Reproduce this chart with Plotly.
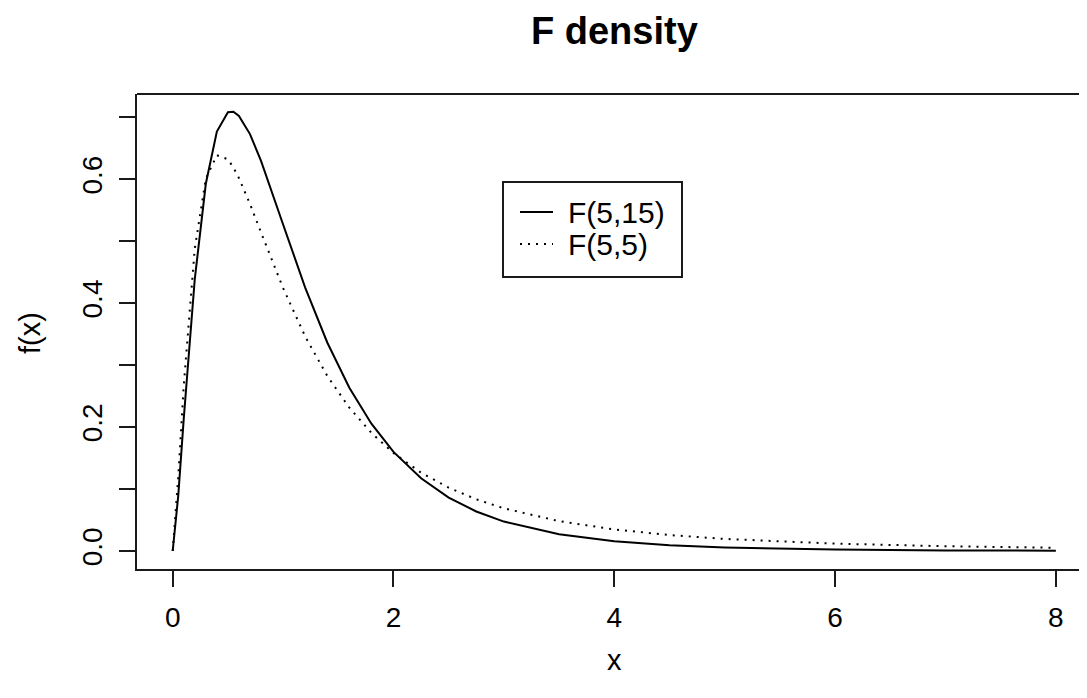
import plotly.graph_objects as go

# ---- data ----
x_vals = [0, 0.05, 0.1, 0.2, 0.3, 0.4, 0.5, 0.55, 0.6, 0.7, 0.8, 0.9, 1.0, 1.2, 1.4, 1.6, 1.8,
          2.0, 2.25, 2.5, 2.75, 3.0, 3.5, 4.0, 4.5, 5.0, 6.0, 7.0, 8.0]
f_5_15 = [0, 0.0887, 0.2132, 0.4390, 0.5928, 0.6771, 0.7083, 0.7090, 0.7024, 0.6730, 0.6298,
          0.5796, 0.5270, 0.4253, 0.3366, 0.2636, 0.2055, 0.1600, 0.1173, 0.0862, 0.0638,
          0.0475, 0.0269, 0.0157, 0.0094, 0.0058, 0.0023, 0.0010, 0.0005]
f_5_5 = [0, 0.1190, 0.2667, 0.4882, 0.6010, 0.6388, 0.6323, 0.6190, 0.6019, 0.5602, 0.5143,
         0.4683, 0.4244, 0.3464, 0.2825, 0.2313, 0.1906, 0.1581, 0.1264, 0.1022, 0.0835,
         0.0689, 0.0482, 0.0348, 0.0258, 0.0195, 0.0119, 0.0077, 0.0052]
series_names = ["F(5,15)", "F(5,5)"]
x_ticks = [0, 2, 4, 6, 8]
y_ticks = [0.0, 0.1, 0.2, 0.3, 0.4, 0.5, 0.6, 0.7]
y_ticktext = ["0.0", "", "0.2", "", "0.4", "", "0.6", ""]
title_text = "F density"
x_title = "x"
y_title = "f(x)"

# the page body has an 8px margin; keep the page from overflowing vertically
OFF = 8
W, H = 1087 - OFF, 698 - 2 * OFF
ML, MR, MT = 137 - OFF, 0, 94 - OFF
MB = H - (569 - OFF)
FONT = "Liberation Sans, Arial, Helvetica, sans-serif"
LINE = "#1a1a1a"


def px(xp):
    return (xp - OFF - ML) / (W - ML - MR)


def py(yp):
    return (H - MB - (yp - OFF)) / (H - MT - MB)


fig = go.Figure()
fig.add_trace(go.Scatter(x=x_vals, y=f_5_15, mode="lines", name=series_names[0],
                         line=dict(color="black", width=2), showlegend=False))
fig.add_trace(go.Scatter(x=x_vals, y=f_5_5, mode="lines", name=series_names[1],
                         line=dict(color="black", width=2, dash="2px,6px"), showlegend=False))

fig.update_layout(
    width=W, height=H,
    margin=dict(l=ML, r=MR, t=MT, b=MB),
    paper_bgcolor="white", plot_bgcolor="white",
    font=dict(family=FONT, color="black", size=28),
    xaxis=dict(range=[-0.3234, 8.282], tickmode="array", tickvals=x_ticks,
               ticktext=[str(v) for v in x_ticks],
               showgrid=False, zeroline=False, showline=True, linecolor=LINE, linewidth=2,
               ticks="outside", ticklen=16, tickwidth=2, tickcolor=LINE,
               tickfont=dict(size=28, family=FONT), ticklabelstandoff=6),
    yaxis=dict(range=[-0.02906, 0.7377], tickmode="array", tickvals=y_ticks,
               ticktext=y_ticktext, tickangle=-90,
               showgrid=False, zeroline=False, showline=True, linecolor=LINE, linewidth=2,
               ticks="outside", ticklen=16, tickwidth=2, tickcolor=LINE,
               tickfont=dict(size=28, family=FONT), ticklabelstandoff=6),
    showlegend=False,
)

# top border of the box (right side lies beyond the picture)
fig.add_shape(type="line", xref="paper", yref="paper", x0=0, x1=1, y0=1, y1=1,
              line=dict(color=LINE, width=2))

# titles
fig.add_annotation(text="<b>" + title_text + "</b>", xref="paper", yref="paper",
                   x=px(614), y=py(31), showarrow=False, xanchor="center", yanchor="middle",
                   font=dict(size=38, family=FONT, color="black"))
fig.add_annotation(text=x_title, xref="paper", yref="paper",
                   x=px(614), y=py(660), showarrow=False, xanchor="center", yanchor="middle",
                   font=dict(size=29, family=FONT, color="black"))
fig.add_annotation(text=y_title, xref="paper", yref="paper",
                   x=px(30), y=py(333), showarrow=False, xanchor="center", yanchor="middle",
                   textangle=-90, font=dict(size=29, family=FONT, color="black"))

# legend box
fig.add_shape(type="rect", xref="paper", yref="paper",
              x0=px(503), x1=px(682), y0=py(277), y1=py(182),
              line=dict(color=LINE, width=2), fillcolor="white", layer="above")
fig.add_shape(type="line", xref="paper", yref="paper",
              x0=px(520), x1=px(553), y0=py(212), y1=py(212),
              line=dict(color="black", width=2), layer="above")
fig.add_shape(type="line", xref="paper", yref="paper",
              x0=px(520), x1=px(553), y0=py(244), y1=py(244),
              line=dict(color="black", width=2, dash="2px,6px"), layer="above")
fig.add_annotation(text=series_names[0], xref="paper", yref="paper",
                   x=px(566), y=py(212), showarrow=False, xanchor="left", yanchor="middle",
                   font=dict(size=30, family=FONT, color="black"))
fig.add_annotation(text=series_names[1], xref="paper", yref="paper",
                   x=px(566), y=py(244), showarrow=False, xanchor="left", yanchor="middle",
                   font=dict(size=30, family=FONT, color="black"))

fig.write_html("out.html")
